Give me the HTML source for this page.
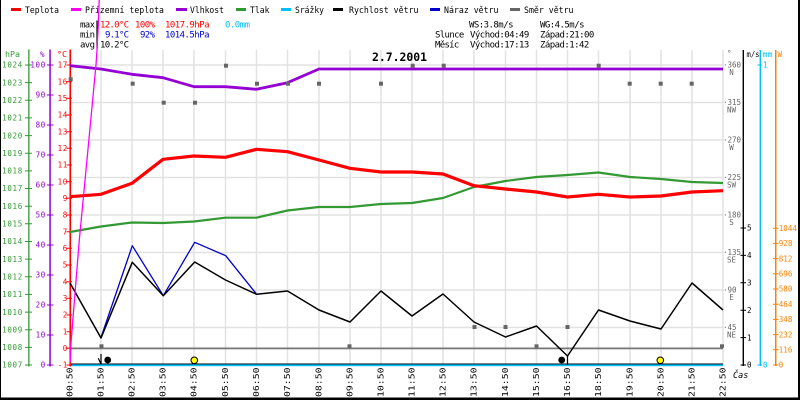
<!DOCTYPE html>
<html><head><meta charset="utf-8"><style>
html,body{margin:0;padding:0;background:#fff}
svg{display:block}
text{font-family:"DejaVu Sans Mono","Liberation Mono",monospace}
</style></head><body>
<svg width="800" height="400" viewBox="0 0 800 400" xmlns="http://www.w3.org/2000/svg">
<rect x="0" y="0" width="800" height="400" fill="#fff"/>

<!-- grid -->
<g stroke="#e2e2e2" stroke-width="1.5" fill="none">
<path d="M70 50V365M101 50V365M132 50V365M163 50V365M194 50V365M225.5 50V365M256.5 50V365M287.5 50V365M319 50V365M350 50V365M381 50V365M412 50V365M443 50V365M474 50V365M505.5 50V365M536.5 50V365M567.5 50V365M598.5 50V365M630 50V365M661 50V365M692 50V365M723 50V365"/>
<path d="M70 65H723M70 102.5H723M70 140H723M70 177.5H723M70 215H723M70 252.5H723M70 290H723M70 327.5H723"/>
</g>

<!-- zero line -->
<rect x="70" y="347.5" width="653" height="1.8" fill="#777"/>
<!-- x axis base -->
<rect x="70" y="363.5" width="653" height="1" fill="#000"/>
<rect x="70" y="364.4" width="653" height="1.8" fill="#00bfff"/>

<!-- legend -->
<g font-size="9">
<rect x="11" y="8" width="10" height="3" fill="#ff0000"/>
<text x="25" y="13" textLength="34" lengthAdjust="spacingAndGlyphs" fill="#000">Teplota</text>
<rect x="71" y="8" width="10" height="3" fill="#ff00ff"/>
<text x="85" y="13" textLength="79" lengthAdjust="spacingAndGlyphs" fill="#000">Přízemní teplota</text>
<rect x="176" y="8" width="11" height="3" fill="#9400d3"/>
<text x="190" y="13" textLength="34" lengthAdjust="spacingAndGlyphs" fill="#000">Vlhkost</text>
<rect x="236" y="8" width="10" height="3" fill="#339933"/>
<text x="250" y="13" textLength="19.5" lengthAdjust="spacingAndGlyphs" fill="#000">Tlak</text>
<rect x="281" y="8" width="10" height="3" fill="#00bfff"/>
<text x="295" y="13" textLength="29" lengthAdjust="spacingAndGlyphs" fill="#000">Srážky</text>
<rect x="333" y="8" width="10" height="3" fill="#000"/>
<text x="349" y="13" textLength="69.5" lengthAdjust="spacingAndGlyphs" fill="#000">Rychlost větru</text>
<rect x="430" y="8" width="10" height="3" fill="#0000cc"/>
<text x="444" y="13" textLength="54.5" lengthAdjust="spacingAndGlyphs" fill="#000">Náraz větru</text>
<rect x="510" y="8" width="10" height="3" fill="#666"/>
<text x="524" y="13" textLength="49.5" lengthAdjust="spacingAndGlyphs" fill="#000">Směr větru</text>
</g>

<!-- stats -->
<g font-size="9" lengthAdjust="spacingAndGlyphs">
<text x="80" y="27.5" textLength="15" fill="#000">max</text>
<text x="100" y="27.5" textLength="29" fill="#ff0000">12.0°C</text>
<text x="135" y="27.5" textLength="20" fill="#ff0000">100%</text>
<text x="165" y="27.5" textLength="44.5" fill="#ff0000">1017.9hPa</text>
<text x="225" y="27.5" textLength="25" fill="#00bfff">0.0mm</text>
<text x="80" y="37.5" textLength="15" fill="#000">min</text>
<text x="105" y="37.5" textLength="24" fill="#0000cc">9.1°C</text>
<text x="140" y="37.5" textLength="15" fill="#0000cc">92%</text>
<text x="165" y="37.5" textLength="44.5" fill="#0000cc">1014.5hPa</text>
<text x="80" y="47.5" textLength="15" fill="#000">avg</text>
<text x="100" y="47.5" textLength="29" fill="#000">10.2°C</text>

<text x="469" y="27.5" textLength="44.5" fill="#000">WS:3.8m/s</text>
<text x="540" y="27.5" textLength="44.5" fill="#000">WG:4.5m/s</text>
<text x="435" y="37.5" textLength="29.3" fill="#000">Slunce</text>
<text x="470" y="37.5" textLength="59.3" fill="#000">Východ:04:49</text>
<text x="540" y="37.5" textLength="54.3" fill="#000">Západ:21:00</text>
<text x="435" y="47.5" textLength="24.3" fill="#000">Měsíc</text>
<text x="470" y="47.5" textLength="59.3" fill="#000">Východ:17:13</text>
<text x="540" y="47.5" textLength="49.3" fill="#000">Západ:1:42</text>
</g>
<rect x="96.4" y="20.5" width="1.3" height="28" fill="#000"/>

<!-- title -->
<text x="372" y="61" font-size="11.5" font-weight="bold" textLength="55" lengthAdjust="spacingAndGlyphs" fill="#000">2.7.2001</text>

<!-- left axes -->
<g font-size="7.5">
<text x="5" y="57" textLength="15" lengthAdjust="spacingAndGlyphs" fill="#339933">hPa</text>
<text x="40" y="57" fill="#9400d3">%</text>
<text x="57" y="57" textLength="10" lengthAdjust="spacingAndGlyphs" fill="#ff0000">°C</text>
</g>
<rect x="28.2" y="49.5" width="1.3" height="317" fill="#339933"/>
<rect x="49.3" y="49.5" width="1.5" height="317" fill="#9400d3"/>
<rect x="69.5" y="49.5" width="1.6" height="317" fill="#ff0000"/>

<g fill="#339933" font-size="7.5" text-anchor="end" letter-spacing="0.7">
<text x="23" y="67.7">1024</text><text x="23" y="85.3">1023</text><text x="23" y="103">1022</text><text x="23" y="120.6">1021</text><text x="23" y="138.3">1020</text><text x="23" y="155.9">1019</text><text x="23" y="173.6">1018</text><text x="23" y="191.2">1017</text><text x="23" y="208.9">1016</text><text x="23" y="226.5">1015</text><text x="23" y="244.2">1014</text><text x="23" y="261.8">1013</text><text x="23" y="279.5">1012</text><text x="23" y="297.1">1011</text><text x="23" y="314.8">1010</text><text x="23" y="332.4">1009</text><text x="23" y="350.1">1008</text><text x="23" y="367.7">1007</text>
</g>
<path stroke="#339933" stroke-width="1" d="M25 65H32M25 82.6H32M25 100.3H32M25 117.9H32M25 135.6H32M25 153.2H32M25 170.9H32M25 188.5H32M25 206.2H32M25 223.8H32M25 241.5H32M25 259.1H32M25 276.8H32M25 294.4H32M25 312.1H32M25 329.7H32M25 347.4H32M25 365H32"/>

<g fill="#9400d3" font-size="7.5" text-anchor="end" letter-spacing="0.7">
<text x="46" y="67.7">100</text><text x="46" y="97.7">90</text><text x="46" y="127.7">80</text><text x="46" y="157.7">70</text><text x="46" y="187.7">60</text><text x="46" y="217.7">50</text><text x="46" y="247.7">40</text><text x="46" y="277.7">30</text><text x="46" y="307.7">20</text><text x="46" y="337.7">10</text><text x="46" y="367.7">0</text>
</g>
<path stroke="#9400d3" stroke-width="1" d="M47 65H53.5M47 95H53.5M47 125H53.5M47 155H53.5M47 185H53.5M47 215H53.5M47 245H53.5M47 275H53.5M47 305H53.5M47 335H53.5M47 365H53.5"/>

<g fill="#ff0000" font-size="7.5" text-anchor="end" letter-spacing="0.7">
<text x="68" y="67.7">17</text><text x="68" y="84.4">16</text><text x="68" y="101">15</text><text x="68" y="117.7">14</text><text x="68" y="134.4">13</text><text x="68" y="151">12</text><text x="68" y="167.7">11</text><text x="68" y="184.4">10</text><text x="68" y="201">9</text><text x="68" y="217.7">8</text><text x="68" y="234.4">7</text><text x="68" y="251">6</text><text x="68" y="267.7">5</text><text x="68" y="284.4">4</text><text x="68" y="301">3</text><text x="68" y="317.7">2</text><text x="68" y="334.4">1</text><text x="68" y="351">0</text><text x="68" y="367.7">-1</text>
</g>
<path stroke="#ff0000" stroke-width="1" d="M66.5 65H72M66.5 81.7H72M66.5 98.3H72M66.5 115H72M66.5 131.7H72M66.5 148.3H72M66.5 165H72M66.5 181.7H72M66.5 198.3H72M66.5 215H72M66.5 231.7H72M66.5 248.3H72M66.5 265H72M66.5 281.7H72M66.5 298.3H72M66.5 315H72M66.5 331.7H72M66.5 348.3H72M66.5 365H72"/>

<!-- right direction axis -->
<g fill="#666" font-size="7.5">
<text x="727" y="56">°</text>
<text x="723" y="67.5">·360</text><text x="731.5" y="75" text-anchor="middle">N</text>
<text x="723" y="105">·315</text><text x="731.5" y="112.5" text-anchor="middle">NW</text>
<text x="723" y="142.5">·270</text><text x="731.5" y="150" text-anchor="middle">W</text>
<text x="723" y="180">·225</text><text x="731.5" y="187.5" text-anchor="middle">SW</text>
<text x="723" y="217.5">·180</text><text x="731.5" y="225" text-anchor="middle">S</text>
<text x="723" y="255">·135</text><text x="731.5" y="262.5" text-anchor="middle">SE</text>
<text x="723" y="292.5">·90</text><text x="731.5" y="300" text-anchor="middle">E</text>
<text x="723" y="330">·45</text><text x="731.5" y="337.5" text-anchor="middle">NE</text>
</g>
<text x="733" y="378" font-size="8.5" font-style="italic" fill="#000">Čas</text>

<!-- right value axes -->
<g font-size="7.5">
<text x="746.5" y="57" textLength="13" lengthAdjust="spacingAndGlyphs" fill="#000">m/s</text>
<text x="762.5" y="57" textLength="10" lengthAdjust="spacingAndGlyphs" fill="#00bfff">mm</text>
<text x="777.5" y="57" fill="#ff8000">W</text>
</g>
<rect x="742.6" y="50" width="1.4" height="316" fill="#000"/>
<rect x="759.6" y="50" width="1.5" height="316" fill="#00bfff"/>
<rect x="775" y="50" width="1.5" height="316" fill="#ff8000"/>
<path stroke="#000" stroke-width="1" d="M740.5 228H746M740.5 255.4H746M740.5 282.8H746M740.5 310.2H746M740.5 337.6H746M740.5 365H746"/>
<g fill="#000" font-size="7.5">
<text x="747" y="230.7">5</text><text x="747" y="258.1">4</text><text x="747" y="285.5">3</text><text x="747" y="312.9">2</text><text x="747" y="340.3">1</text><text x="747" y="367.7">0</text>
</g>
<path stroke="#00bfff" stroke-width="1" d="M757.5 65H762M757.5 365H762"/>
<g fill="#00bfff" font-size="7.5"><text x="763" y="67.7">1</text><text x="763" y="367.7">0</text></g>
<path stroke="#ff8000" stroke-width="1" d="M773 365H778.5M773 349.8H778.5M773 334.6H778.5M773 319.4H778.5M773 304.2H778.5M773 289H778.5M773 273.8H778.5M773 258.6H778.5M773 243.4H778.5M773 228.2H778.5"/>
<g fill="#ff8000" font-size="7.5">
<text x="778.8" y="367.7">0</text><text x="778.8" y="352.5">116</text><text x="778.8" y="337.3">232</text><text x="778.8" y="322.1">348</text><text x="778.8" y="306.9">464</text><text x="778.8" y="291.7">580</text><text x="778.8" y="276.5">696</text><text x="778.8" y="261.3">812</text><text x="778.8" y="246.1">928</text><text x="778.8" y="230.9">1044</text>
</g>

<!-- x labels -->
<g font-size="7.5" fill="#000">
<text transform="translate(72.5 397) rotate(-90)" textLength="29.5" lengthAdjust="spacingAndGlyphs">00:50</text>
<text transform="translate(103.5 397) rotate(-90)" textLength="29.5" lengthAdjust="spacingAndGlyphs">01:50</text>
<text transform="translate(134.5 397) rotate(-90)" textLength="29.5" lengthAdjust="spacingAndGlyphs">02:50</text>
<text transform="translate(165.5 397) rotate(-90)" textLength="29.5" lengthAdjust="spacingAndGlyphs">03:50</text>
<text transform="translate(196.5 397) rotate(-90)" textLength="29.5" lengthAdjust="spacingAndGlyphs">04:50</text>
<text transform="translate(228 397) rotate(-90)" textLength="29.5" lengthAdjust="spacingAndGlyphs">05:50</text>
<text transform="translate(259 397) rotate(-90)" textLength="29.5" lengthAdjust="spacingAndGlyphs">06:50</text>
<text transform="translate(290 397) rotate(-90)" textLength="29.5" lengthAdjust="spacingAndGlyphs">07:50</text>
<text transform="translate(321.5 397) rotate(-90)" textLength="29.5" lengthAdjust="spacingAndGlyphs">08:50</text>
<text transform="translate(352.5 397) rotate(-90)" textLength="29.5" lengthAdjust="spacingAndGlyphs">09:50</text>
<text transform="translate(383.5 397) rotate(-90)" textLength="29.5" lengthAdjust="spacingAndGlyphs">10:50</text>
<text transform="translate(414.5 397) rotate(-90)" textLength="29.5" lengthAdjust="spacingAndGlyphs">11:50</text>
<text transform="translate(445.5 397) rotate(-90)" textLength="29.5" lengthAdjust="spacingAndGlyphs">12:50</text>
<text transform="translate(476.5 397) rotate(-90)" textLength="29.5" lengthAdjust="spacingAndGlyphs">13:50</text>
<text transform="translate(508 397) rotate(-90)" textLength="29.5" lengthAdjust="spacingAndGlyphs">14:50</text>
<text transform="translate(539 397) rotate(-90)" textLength="29.5" lengthAdjust="spacingAndGlyphs">15:50</text>
<text transform="translate(570 397) rotate(-90)" textLength="29.5" lengthAdjust="spacingAndGlyphs">16:50</text>
<text transform="translate(601 397) rotate(-90)" textLength="29.5" lengthAdjust="spacingAndGlyphs">18:50</text>
<text transform="translate(632.5 397) rotate(-90)" textLength="29.5" lengthAdjust="spacingAndGlyphs">19:50</text>
<text transform="translate(663.5 397) rotate(-90)" textLength="29.5" lengthAdjust="spacingAndGlyphs">20:50</text>
<text transform="translate(694.5 397) rotate(-90)" textLength="29.5" lengthAdjust="spacingAndGlyphs">21:50</text>
<text transform="translate(725.5 397) rotate(-90)" textLength="29.5" lengthAdjust="spacingAndGlyphs">22:50</text>
</g>

<!-- data -->
<g fill="none" stroke-linejoin="round" stroke-linecap="butt">
<polyline stroke="#339933" stroke-width="2.2" points="70,232 101,226.5 132,222.5 163,223 194,221.5 225.5,217.7 256.5,217.7 287.5,210.5 319,207 350,207 381,204 412,203 443,198 474,187 505.5,181 536.5,177 567.5,175 598.5,172.5 630,177 661,179 692,182 723,183"/>
<polyline stroke="#9400d3" stroke-width="2.8" points="70,65.7 101,69 132,74.3 163,77.7 194,86.7 225.5,86.7 256.5,89.3 287.5,82.7 319,69 723,69"/>
<polyline stroke="#ff0000" stroke-width="3.2" points="70,196.7 101,194.3 132,183.3 163,159.3 194,156 225.5,157.3 256.5,149.3 287.5,151.7 319,160 350,168.3 381,172 412,172 443,174 474,185.7 505.5,189 536.5,192 567.5,197 598.5,194.3 630,197 661,196 692,192 723,190.7"/>
<polyline stroke="#0000cc" stroke-width="1.3" points="101,337.5 132.3,245.7 163.3,295.7 194.7,242.3 225.7,255.7 256.7,294.3"/>
<polyline stroke="#000" stroke-width="1.5" points="70,283 101,338 132.3,262.3 163.3,295.7 194.7,262 225.5,280 256.7,294.3 287.5,291 319,310 350,322 381,291 412,316 443,294 474,322 505.5,337 536.5,326 567.5,356 598.5,310 630,321 661,329 692,283 723,310"/>
</g>

<!-- direction squares -->
<g fill="#666">
<rect x="68.7" y="77.3" width="4" height="4"/>
<rect x="99.5" y="344.3" width="4" height="3.5"/>
<rect x="130.7" y="81.7" width="4" height="4"/>
<rect x="161.7" y="100.7" width="4" height="4"/>
<rect x="193" y="100.7" width="4" height="4"/>
<rect x="224" y="63.7" width="4" height="4"/>
<rect x="255" y="81.7" width="4" height="4"/>
<rect x="286" y="81.7" width="4" height="4"/>
<rect x="317" y="81.7" width="4" height="4"/>
<rect x="347.5" y="344.3" width="4" height="3.5"/>
<rect x="379" y="81.7" width="4" height="4"/>
<rect x="410.7" y="63.7" width="4" height="4"/>
<rect x="441.7" y="63.7" width="4" height="4"/>
<rect x="472.5" y="325" width="4" height="4"/>
<rect x="503.5" y="325" width="4" height="4"/>
<rect x="534.5" y="344.3" width="4" height="3.5"/>
<rect x="565.5" y="325" width="4" height="4"/>
<rect x="596.7" y="63.7" width="4" height="4"/>
<rect x="627.7" y="81.7" width="4" height="4"/>
<rect x="658.7" y="81.7" width="4" height="4"/>
<rect x="689.7" y="81.7" width="4" height="4"/>
<rect x="720" y="344.3" width="4" height="3.5"/>
</g>

<!-- dew point -->
<polyline fill="none" stroke="#ff00ff" stroke-width="1.3" points="70.3,362 71,343 79.3,240 86,170 92.3,104 95,75 96,65 97,50 98.3,25 99.2,0"/>

<!-- sun / moon markers -->
<path stroke="#000" stroke-width="1.2" fill="none" d="M101 354V364M98.3 358.3L100.7 363.5M567.5 356V365"/>
<circle cx="107.7" cy="360" r="3.4" fill="#000"/>
<circle cx="561.7" cy="360" r="3.4" fill="#000"/>
<circle cx="194.3" cy="360.3" r="3.3" fill="#ffff00" stroke="#000" stroke-width="1"/>
<circle cx="660.3" cy="360.3" r="3.3" fill="#ffff00" stroke="#000" stroke-width="1"/>

<!-- border -->
<rect x="0" y="0" width="1" height="400" fill="#000"/>
<rect x="798" y="0" width="2" height="400" fill="#000"/>
<rect x="0" y="397.5" width="800" height="2.5" fill="#000"/>
</svg>
</body></html>
